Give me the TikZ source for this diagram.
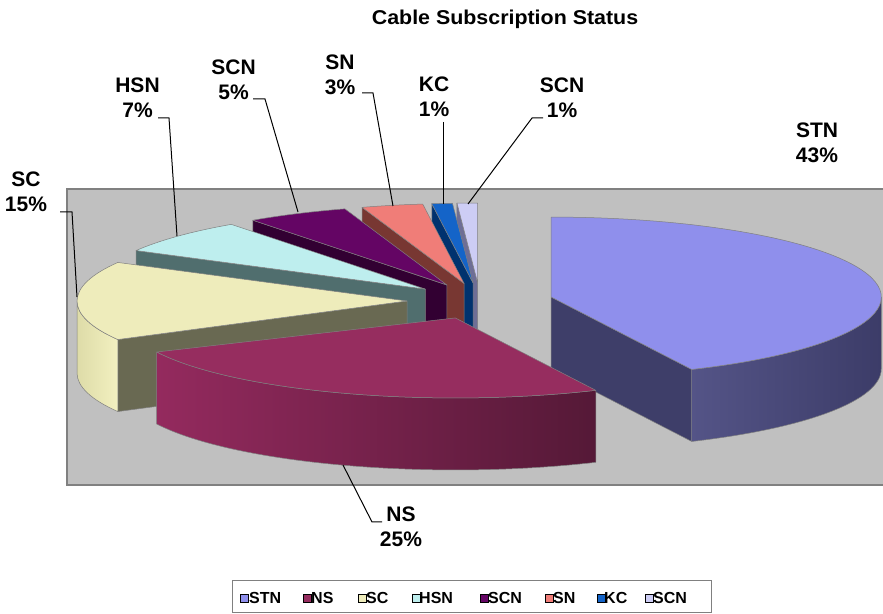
\documentclass[tikz,border=0pt]{standalone}
\usepackage{fontspec}
\setmainfont{Liberation Sans}
\newfontfamily\titlefont[FakeStretch=1.07]{Liberation Sans}
\definecolor{plotgrey}{RGB}{192,192,192}
\definecolor{frame}{RGB}{128,128,128}
\definecolor{stnT}{RGB}{143,143,236}
\definecolor{stnR}{RGB}{62,62,105}
\definecolor{stnSa}{RGB}{84,84,135}
\definecolor{stnSb}{RGB}{60,60,104}
\definecolor{nsT}{RGB}{150,45,95}
\definecolor{nsSa}{RGB}{148,42,94}
\definecolor{nsSb}{RGB}{85,25,55}
\definecolor{scT}{RGB}{238,236,187}
\definecolor{scR}{RGB}{105,105,82}
\definecolor{scSa}{RGB}{222,220,168}
\definecolor{scSb}{RGB}{242,240,192}
\definecolor{hsnT}{RGB}{190,238,238}
\definecolor{hsnR}{RGB}{80,110,110}
\definecolor{scnAT}{RGB}{100,5,100}
\definecolor{scnAR}{RGB}{50,0,50}
\definecolor{snT}{RGB}{240,125,120}
\definecolor{snR}{RGB}{120,55,50}
\definecolor{kcT}{RGB}{20,100,200}
\definecolor{kcR}{RGB}{0,50,110}
\definecolor{scnBT}{RGB}{205,205,245}
\definecolor{scnBR}{RGB}{110,110,150}
\newcommand\pietop[4]{%
  \path (#1) ++(#2:330 and 80) coordinate (tmpA);
  \path[face, fill=#4] (#1) -- (tmpA) arc[start angle=#2, end angle=#3, x radius=330, y radius=80] -- cycle;}
\newcommand\pierad[3]{%
  \path (#1) ++(#2:330 and 80) coordinate (tmpA);
  \path[face, fill=#3] (#1) -- (tmpA) -- ([yshift=-72pt]tmpA) -- ([yshift=-72pt]#1) -- cycle;}
\newcommand\pieside[5]{%
  \path (#1) ++(#2:330 and 80) coordinate (tmpA);
  \path[face, left color=#4, right color=#5] (tmpA) arc[start angle=#2, end angle=#3, x radius=330, y radius=80] -- ++(0,-72) arc[start angle=#3, end angle=#2, x radius=330, y radius=80] -- cycle;}
\begin{document}
\begin{tikzpicture}[x=1pt,y=1pt,
  lbl/.style={font=\fontsize{21}{24.5}\selectfont\bfseries, align=center, inner sep=0pt, anchor=north},
  leader/.style={draw=black, line width=1pt},
  face/.style={draw=black!50, line width=0.5pt, line join=round},
  legtxt/.style={font=\fontsize{16}{18}\selectfont\bfseries, anchor=base west, inner sep=0pt},
  legsq/.style={draw=black, line width=0.8pt, minimum size=7.5pt, inner sep=0pt, anchor=south west}]
\useasboundingbox (0,0) rectangle (883,613);
\fill[white] (0,0) rectangle (883,613);
% plot area
\fill[plotgrey] (67,128) rectangle (884,424);
\draw[frame, line width=1.8pt] (884,424) -- (67,424) -- (67,128) -- (884,128);
% apexes
\coordinate (stn) at ({480+73*cos(12.6)},{312+18*sin(12.6)});
\coordinate (ns) at ({480+73*cos(-109.8)},{312+18*sin(-109.8)});
\coordinate (sc) at ({480+73*cos(180)},{312+18*sin(180)});
\coordinate (hsn) at ({480+73*cos(138.6)},{312+18*sin(138.6)});
\coordinate (scnA) at ({480+73*cos(117)},{312+18*sin(117)});
\coordinate (sn) at ({480+73*cos(102.6)},{312+18*sin(102.6)});
\coordinate (kc) at ({480+73*cos(95.4)},{312+18*sin(95.4)});
\coordinate (scnB) at ({480+73*cos(91.8)},{312+18*sin(91.8)});
% back slices
\pierad{scnB}{93.6}{scnBR}
\pietop{scnB}{90}{93.6}{scnBT}
\pierad{kc}{97.2}{kcR}
\pietop{kc}{93.6}{97.2}{kcT}
\pierad{sn}{108}{snR}
\pietop{sn}{97.2}{108}{snT}
\pierad{scnA}{126}{scnAR}
\pietop{scnA}{108}{126}{scnAT}
\pierad{hsn}{151.2}{hsnR}
\pietop{hsn}{126}{151.2}{hsnT}
% SC
\pierad{sc}{208.8}{scR}
\pieside{sc}{180}{208.8}{scSa}{scSb}
\pietop{sc}{151.2}{208.8}{scT}
% STN
\pierad{stn}{-64.8}{stnR}
\pieside{stn}{-64.8}{0}{stnSa}{stnSb}
\pietop{stn}{-64.8}{90}{stnT}
% NS
\pieside{ns}{-154.8}{-64.8}{nsSa}{nsSb}
\pietop{ns}{-154.8}{-64.8}{nsT}
% title
\node[font=\titlefont\fontsize{20}{24}\selectfont\bfseries, anchor=base, inner sep=0pt] (title) at (505,588) {Cable Subscription Status};
% labels
\node[lbl] (lSC) at (26,441.3) {SC\\15\%};
\node[lbl] (lHSN) at (137.5,535.3) {HSN\\7\%};
\node[lbl] (lSCNa) at (233.5,553.3) {SCN\\5\%};
\node[lbl] (lSN) at (340,558.3) {SN\\3\%};
\node[lbl] (lKC) at (434,536.3) {KC\\1\%};
\node[lbl] (lSCNb) at (562,535.3) {SCN\\1\%};
\node[lbl] (lSTN) at (817,490.3) {STN\\43\%};
\node[lbl] (lNS) at (401,106.3) {NS\\25\%};
% leaders
\coordinate (scS) at (60,401); \coordinate (scE) at (72,401); \coordinate (scP) at (77,316);
\coordinate (hsnS) at (158,495); \coordinate (hsnE) at (169,495); \coordinate (hsnP) at (177,377);
\coordinate (scnaS) at (253,514); \coordinate (scnaE) at (265,514); \coordinate (scnaP) at (298,401);
\coordinate (snS) at (362,520); \coordinate (snE) at (373,520); \coordinate (snP) at (393,407);
\coordinate (kcS) at (443,491); \coordinate (kcP) at (443,409);
\coordinate (scnbS) at (543,495); \coordinate (scnbE) at (532,495); \coordinate (scnbP) at (468,409);
\coordinate (nsS) at (382,91); \coordinate (nsE) at (372,91); \coordinate (nsP) at (343,148);
\draw[leader] (scS) -- (scE) -- (scP);
\draw[leader] (hsnS) -- (hsnE) -- (hsnP);
\draw[leader] (scnaS) -- (scnaE) -- (scnaP);
\draw[leader] (snS) -- (snE) -- (snP);
\draw[leader] (kcS) -- (kcP);
\draw[leader] (scnbS) -- (scnbE) -- (scnbP);
\draw[leader] (nsS) -- (nsE) -- (nsP);
% legend
\draw[frame, fill=white, line width=1pt] (232,1) rectangle (711,33);
\node[legsq, fill=stnT] (q1) at (240,10.5) {}; \node[legtxt] (t1) at (249,10) {STN};
\node[legsq, fill=nsT] (q2) at (303,10.5) {}; \node[legtxt] (t2) at (311,10) {NS};
\node[legsq, fill=scT] (q3) at (358,10.5) {}; \node[legtxt] (t3) at (366,10) {SC};
\node[legsq, fill=hsnT] (q4) at (412,10.5) {}; \node[legtxt] (t4) at (419,10) {HSN};
\node[legsq, fill=scnAT] (q5) at (480,10.5) {}; \node[legtxt] (t5) at (488,10) {SCN};
\node[legsq, fill=snT] (q6) at (545,10.5) {}; \node[legtxt] (t6) at (553,10) {SN};
\node[legsq, fill=kcT] (q7) at (597,10.5) {}; \node[legtxt] (t7) at (604,10) {KC};
\node[legsq, fill=scnBT] (q8) at (645,10.5) {}; \node[legtxt] (t8) at (653,10) {SCN};
\end{tikzpicture}
\end{document}
